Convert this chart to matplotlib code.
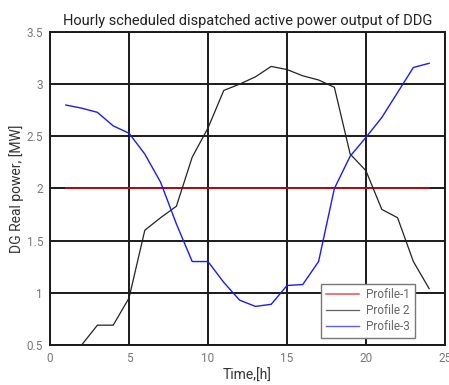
import matplotlib
matplotlib.use("Agg")
import matplotlib.pyplot as plt

hours = list(range(1, 25))
profile1 = [2.0] * 24
profile2 = [0.30, 0.50, 0.69, 0.69, 0.95, 1.60, 1.72, 1.83, 2.30, 2.58, 2.94, 3.00,
            3.07, 3.17, 3.14, 3.08, 3.04, 2.97, 2.33, 2.17, 1.80, 1.72, 1.30, 1.04]
profile3 = [2.80, 2.77, 2.73, 2.60, 2.53, 2.33, 2.06, 1.66, 1.30, 1.30, 1.10, 0.93,
            0.87, 0.89, 1.07, 1.08, 1.30, 2.00, 2.31, 2.49, 2.68, 2.92, 3.16, 3.20]
labels = ["Profile-1", "Profile 2", "Profile-3"]
xticks = [0, 5, 10, 15, 20, 25]
yticks = [0.5, 1, 1.5, 2, 2.5, 3, 3.5]

plt.rcParams['font.family'] = ['Roboto', 'DejaVu Sans']

fig = plt.figure(figsize=(4.49, 3.85), dpi=100)
ax = fig.add_axes([0.1114, 0.1039, 0.8796, 0.813])

ax.plot(hours, profile1, color='#e8000b', lw=1.1, label=labels[0], zorder=3)
ax.plot(hours, profile2, color='#222222', lw=0.9, label=labels[1], zorder=3)
ax.plot(hours, profile3, color='#1a1aff', lw=1.0, label=labels[2], zorder=3)

ax.set_xlim(0, 25)
ax.set_ylim(0.5, 3.5)
ax.set_xticks(xticks)
ax.set_yticks(yticks)
ax.set_xticklabels([str(t) for t in xticks])
ax.set_yticklabels([f"{t:g}" for t in yticks])
ax.grid(True, color='#1a1a1a', lw=1.4, zorder=1)
ax.set_axisbelow(True)
ax.tick_params(length=0, labelsize=8.5, labelcolor='#777777', pad=5)
for s in ax.spines.values():
    s.set_color('#1a1a1a')
    s.set_linewidth(1.4)

ax.set_title("Hourly scheduled dispatched active power output of DDG",
             fontsize=10.5, color='#222222', pad=5)
ax.set_xlabel("Time,[h]", fontsize=10, color='#333333', labelpad=3)
ax.set_ylabel("DG Real power, [MW]", fontsize=10, color='#333333', labelpad=2)

leg = ax.legend(loc='lower right', bbox_to_anchor=(0.924, 0.022), fontsize=8.5,
                fancybox=False, framealpha=1, edgecolor='#777777',
                handlelength=2.8, labelspacing=0.25, borderpad=0.4,
                handletextpad=0.6, borderaxespad=0)
for t in leg.get_texts():
    t.set_color('#666666')
for h in leg.get_lines():
    h.set_alpha(0.7)
leg.get_frame().set_linewidth(1.0)
leg.set_zorder(5)

fig.savefig("out.png", dpi=100)
